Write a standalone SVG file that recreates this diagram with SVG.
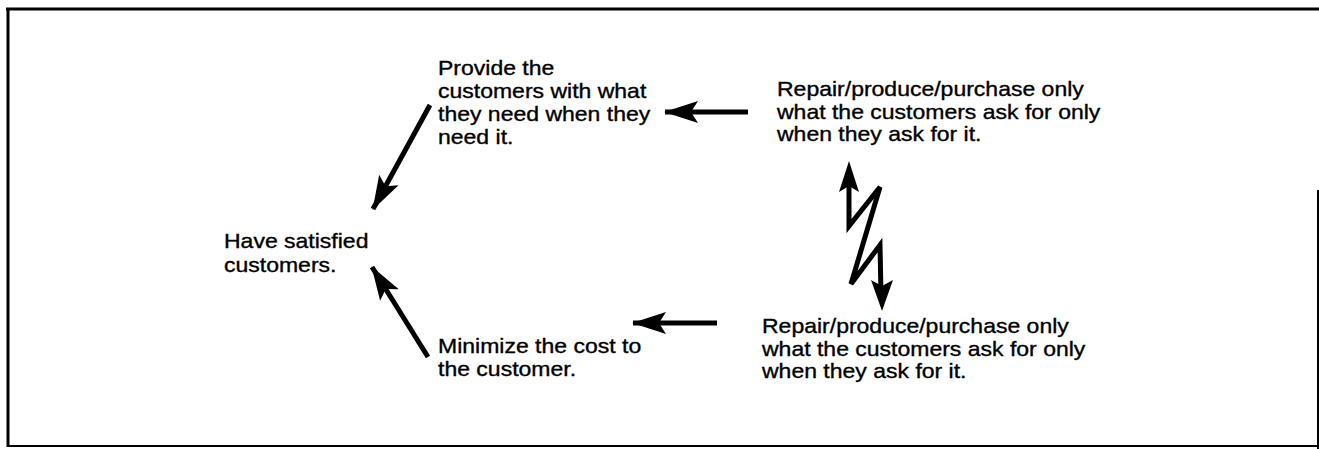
<svg xmlns="http://www.w3.org/2000/svg" width="1319" height="449" viewBox="0 0 1319 449">
  <style>
    .t { font-family: "Liberation Sans", Arial, sans-serif; font-size: 20px; fill: #000; stroke: #000; stroke-width: 0.35; }
    .ln { stroke: #000; stroke-width: 5; fill: none; }
    .frame { stroke: #000; fill: none; }
  </style>
  <defs>
    <marker id="ah" markerUnits="userSpaceOnUse" markerWidth="40" markerHeight="26" refX="0" refY="0" viewBox="-36 -13 38 26" orient="auto">
      <path d="M1,0 L-33,-11 L-26,0 L-33,11 Z" fill="#000"/>
    </marker>
  </defs>
  <rect width="1319" height="449" fill="#fff"/>
  <g id="frame">
    <line class="frame" x1="6" y1="9" x2="1319" y2="9" stroke-width="3"/>
    <line class="frame" x1="8" y1="8" x2="8" y2="447" stroke-width="3"/>
    <line class="frame" x1="7" y1="446" x2="1318" y2="446" stroke-width="2"/>
    <line class="frame" x1="1318" y1="190" x2="1318" y2="449" stroke-width="2"/>
  </g>
  <g id="n-satisfied" transform="translate(224,0) scale(1.15,1)">
    <text class="t" x="0" y="248">Have satisfied</text>
    <text class="t" x="0" y="272">customers.</text>
  </g>
  <g id="n-provide" transform="translate(438,0) scale(1.15,1)">
    <text class="t" x="0" y="75">Provide the</text>
    <text class="t" x="0" y="98">customers with what</text>
    <text class="t" x="0" y="121">they need when they</text>
    <text class="t" x="0" y="144">need it.</text>
  </g>
  <g id="n-repair-top" transform="translate(777,0) scale(1.15,1)">
    <text class="t" x="0" y="96">Repair/produce/purchase only</text>
    <text class="t" x="0" y="119">what the customers ask for only</text>
    <text class="t" x="0" y="141">when they ask for it.</text>
  </g>
  <g id="n-minimize" transform="translate(438,0) scale(1.15,1)">
    <text class="t" x="0" y="353">Minimize the cost to</text>
    <text class="t" x="0" y="376">the customer.</text>
  </g>
  <g id="n-repair-bottom" transform="translate(762,0) scale(1.15,1)">
    <text class="t" x="0" y="333">Repair/produce/purchase only</text>
    <text class="t" x="0" y="356">what the customers ask for only</text>
    <text class="t" x="0" y="378">when they ask for it.</text>
  </g>
  <g id="connectors">
    <line class="ln" x1="748" y1="112" x2="665" y2="112" marker-end="url(#ah)"/>
    <line class="ln" x1="430" y1="105" x2="373" y2="209" marker-end="url(#ah)"/>
    <line class="ln" x1="428" y1="357" x2="372" y2="267" marker-end="url(#ah)"/>
    <line class="ln" x1="717" y1="323" x2="633" y2="323" marker-end="url(#ah)"/>
    <polyline class="ln" stroke-width="5" stroke-linejoin="miter" points="849,180 849,226 880,187 851,284 880,245 881,295"/>
    <path d="M849,161 L839,192 L849,186 L859,192 Z" fill="#000"/>
    <path d="M882,311 L871,280 L882,286 L893,280 Z" fill="#000"/>
  </g>
</svg>
